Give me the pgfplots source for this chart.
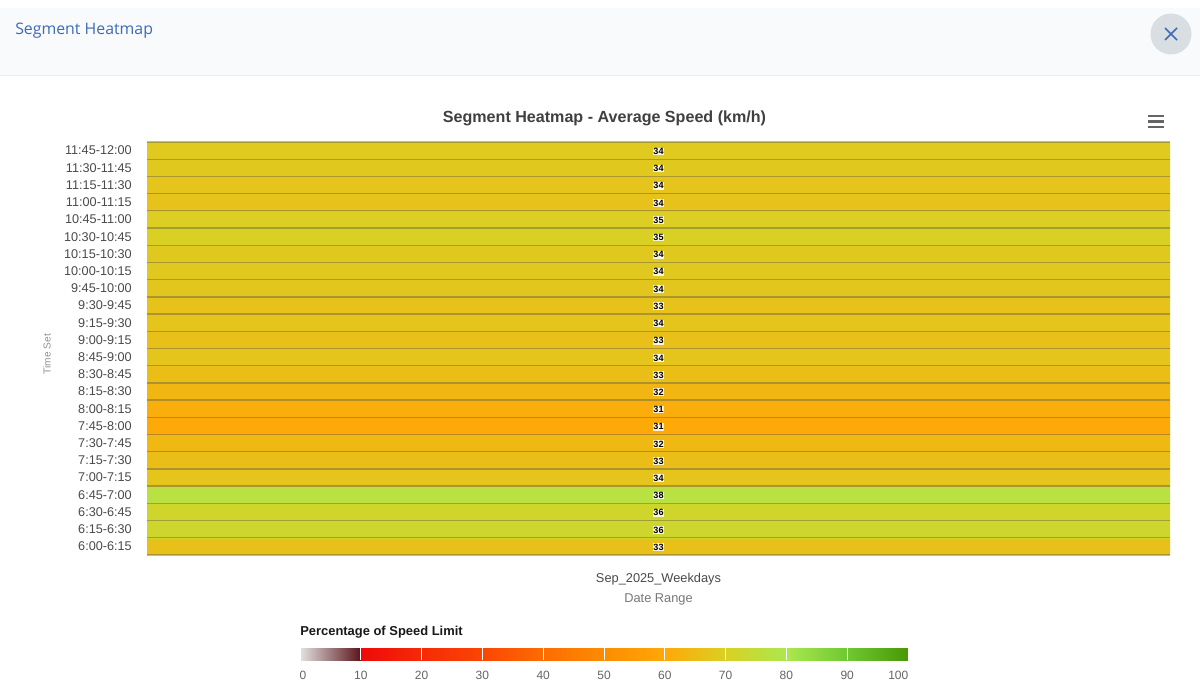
\documentclass[border=0pt]{standalone}
\usepackage{fontspec}
\setmainfont{Liberation Sans}
\newfontfamily\headfont{Open Sans}
\usepackage{pgfplots}
\usepackage{pgfplotstable}
\pgfplotsset{compat=1.18}
\definecolor{ticktxt}{HTML}{4A4A4A}
\definecolor{axtxt}{HTML}{777777}
\definecolor{headbg}{HTML}{F8FAFC}
\definecolor{headln}{HTML}{E8ECF0}
\definecolor{headblue}{HTML}{3F6BB5}
\definecolor{closebg}{HTML}{D9DEE3}
% y = row number (6:00-6:15 is row 0); pct = share of the speed limit, used for the colour of the row starting at y
\pgfplotstableread{
x y pct
0 -0.5 66
1 -0.5 66
0 0.5 72.5
1 0.5 72.5
0 1.5 72
1 1.5 72
0 2.5 77
1 2.5 77
0 3.5 67
1 3.5 67
0 4.5 65.5
1 4.5 65.5
0 5.5 64
1 5.5 64
0 6.5 60.5
1 6.5 60.5
0 7.5 61.5
1 7.5 61.5
0 8.5 63.5
1 8.5 63.5
0 9.5 65.5
1 9.5 65.5
0 10.5 67
1 10.5 67
0 11.5 66
1 11.5 66
0 12.5 67
1 12.5 67
0 13.5 66.5
1 13.5 66.5
0 14.5 67.5
1 14.5 67.5
0 15.5 68
1 15.5 68
0 16.5 68
1 16.5 68
0 17.5 70
1 17.5 70
0 18.5 69.5
1 18.5 69.5
0 19.5 66.5
1 19.5 66.5
0 20.5 67
1 20.5 67
0 21.5 68
1 21.5 68
0 22.5 68.5
1 22.5 68.5
0 23.5 68.5
1 23.5 68.5
}\rowcolours
\pgfplotstableread{
x y speed
0.5 0 33
0.5 1 36
0.5 2 36
0.5 3 38
0.5 4 34
0.5 5 33
0.5 6 32
0.5 7 31
0.5 8 31
0.5 9 32
0.5 10 33
0.5 11 34
0.5 12 33
0.5 13 34
0.5 14 33
0.5 15 34
0.5 16 34
0.5 17 34
0.5 18 35
0.5 19 35
0.5 20 34
0.5 21 34
0.5 22 34
0.5 23 34
}\rowspeeds
\begin{document}
\begin{tikzpicture}[x=0.75pt,y=0.75pt]
\path[fill=white,use as bounding box] (0,0) rectangle (1200,700);
\path[fill=headbg] (0,624) rectangle (1200,692);
\draw[headln,line width=0.75pt] (0,624) -- (1200,624);
\node[anchor=west,inner sep=0,text=headblue,font=\headfont\fontsize{11.9}{14}\selectfont] at (15,669) {Segment Heatmap};
\fill[closebg] (1171,666) circle (20.5);
\draw[headblue,line width=1.2pt] (1165,660) -- (1177,672) (1165,672) -- (1177,660);
\draw[ticktxt!85,line width=2.2pt] (1148,584) -- (1164,584) (1148,578.5) -- (1164,578.5) (1148,573) -- (1164,573);
\begin{axis}[
  at={(110.25pt,108.75pt)}, anchor=south west,
  width=767.25pt, height=309.75pt, scale only axis,
  view={0}{90},
  xmin=0, xmax=1, ymin=-0.5, ymax=23.5,
  axis line style={draw=none},
  major tick length=0pt, minor tick length=0pt,
  axis on top,
  xtick={0.5}, xticklabels={Sep\_2025\_Weekdays},
  ytick={0,...,23},
  yticklabels={6:00-6:15,6:15-6:30,6:30-6:45,6:45-7:00,7:00-7:15,7:15-7:30,7:30-7:45,7:45-8:00,8:00-8:15,8:15-8:30,8:30-8:45,8:45-9:00,9:00-9:15,9:15-9:30,9:30-9:45,9:45-10:00,10:00-10:15,10:15-10:30,10:30-10:45,10:45-11:00,11:00-11:15,11:15-11:30,11:30-11:45,11:45-12:00},
  minor ytick={-0.5,0.5,...,23.5},
  yminorgrids,
  minor grid style={draw=black!70,opacity=0.38,line width=1pt},
  yticklabel style={font=\fontsize{9.5}{11}\selectfont,text=ticktxt,inner sep=0pt,xshift=-11.25pt},
  xticklabel style={font=\fontsize{9.6}{11}\selectfont,text=ticktxt,anchor=center,inner sep=0pt,yshift=-18pt},
  xlabel={Date Range},
  xlabel style={at={(0.5,0)},anchor=center,font=\fontsize{9.6}{11}\selectfont,text=axtxt,yshift=-33pt},
  ylabel={Time Set},
  ylabel style={at={(-0.0978,0.4867)},anchor=center,font=\fontsize{7.6}{10}\selectfont,text=axtxt!80},
  title={Segment Heatmap - Average Speed (km/h)},
  title style={at={(0.4472,1)},anchor=center,yshift=12pt,font=\bfseries\fontsize{12.07}{14}\selectfont,text=black!75},
  colormap={speedlimit}{
    rgb255(0)=(226,226,226) rgb255(9.9)=(92,22,28)
    rgb255(10)=(238,10,10) rgb255(20)=(246,42,6) rgb255(30)=(250,70,4)
    rgb255(40)=(252,108,2) rgb255(50)=(253,140,2) rgb255(60)=(255,168,8)
    rgb255(70)=(218,208,36) rgb255(80)=(170,232,78) rgb255(90)=(112,200,50) rgb255(100)=(72,152,4)},
  colormap name=speedlimit,
  point meta min=0, point meta max=100,
  colorbar horizontal,
  colorbar style={
    at={(0.14956,-0.2252)}, anchor=north west,
    width=456pt, height=9pt, scale only axis,
    xtick={10,20,...,90},
    major tick length=0pt,
    xmajorgrids, grid style={white,line width=0.75pt},
    axis line style={draw=none},
    extra x ticks={0.5,98.4},
    extra x tick labels={0,100},
    extra x tick style={grid=none},
    xticklabel style={font=\fontsize{9}{11}\selectfont,text=ticktxt!85,/pgf/number format/assume math mode=true,inner sep=0pt,yshift=-8.25pt},
  },
]
\addplot[surf, shader=flat corner, mesh/rows=25, mesh/cols=2, point meta=\thisrow{pct}] table[x=x,y=y] {\rowcolours};
\addplot[draw=none, mark=none, point meta=explicit symbolic, nodes near coords,
  nodes near coords align=center,
  every node near coord/.append style={font=\bfseries\fontsize{6.8}{8}\selectfont,fill=white,fill opacity=0.85,text opacity=1,inner sep=0.5pt,text=black,yshift=-0.6pt}]
  table[x=x,y=y,meta=speed] {\rowspeeds};
\end{axis}
\node[anchor=west,inner sep=0,font=\bfseries\fontsize{9.7}{11}\selectfont,text=black!90] at (300,67.5) {Percentage of Speed Limit};
\end{tikzpicture}
\end{document}
